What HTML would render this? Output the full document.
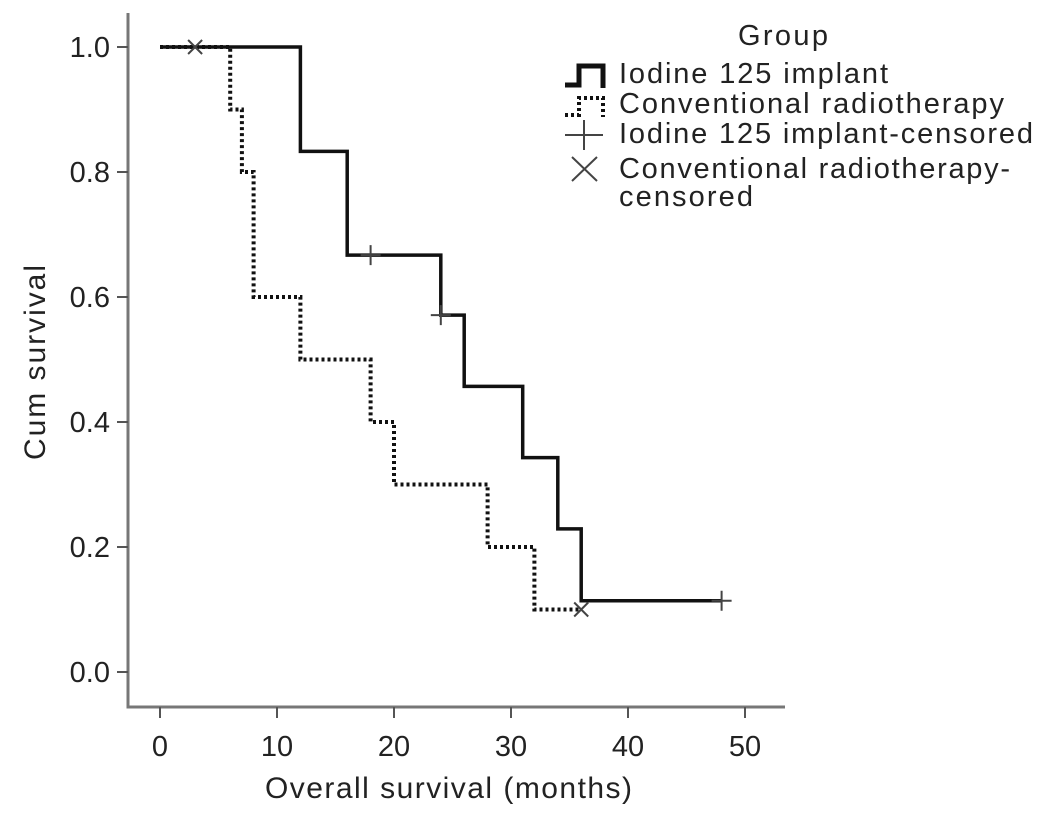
<!DOCTYPE html>
<html><head><meta charset="utf-8"><style>
body{margin:0;background:#fff;}
svg text{font-family:"Liberation Sans",Arial,sans-serif;fill:#222;}
</style></head><body>
<svg width="1047" height="818" viewBox="0 0 1047 818">
<g id="axes"></g>
<g id="series"></g>
<g id="legend">
<text x="783" y="45" font-size="29" text-anchor="middle" textLength="90">Group</text>
<path d="M565 85 H579 V66 H603 V88" fill="none" stroke="#111" stroke-width="5"/>
<text x="619" y="83" font-size="29" textLength="269">Iodine 125 implant</text>
<path d="M565 115 H579 V98 H603 V117" fill="none" stroke="#111" stroke-width="4" stroke-dasharray="3 3"/>
<text x="619" y="113" font-size="29" textLength="385">Conventional radiotherapy</text>
<path d="M565 135 H603 M584 120 V150" stroke="#444" stroke-width="2"/>
<text x="619" y="143" font-size="29" textLength="414">Iodine 125 implant-censored</text>
<path d="M572 157 L597 181 M597 157 L572 181" stroke="#444" stroke-width="2"/>
<text x="619" y="178" font-size="29" textLength="391">Conventional radiotherapy-</text>
<text x="619" y="206" font-size="29" textLength="134">censored</text>
</g>
</svg>
<script>
const xTicks=[0,10,20,30,40,50];
const yTicks=[0.0,0.2,0.4,0.6,0.8,1.0];
const iodineTimes=[0,12,16,24,26,31,34,36,48];
const iodineSurv=[1.0,0.833,0.667,0.571,0.457,0.343,0.229,0.114,0.114];
const convTimes=[0,6,7,8,12,18,20,28,32,36];
const convSurv=[1.0,0.9,0.8,0.6,0.5,0.4,0.3,0.2,0.1,0.1];
const iodineCensT=[18,24,48];
const iodineCensS=[0.667,0.571,0.114];
const convCensT=[3,36];
const convCensS=[1.0,0.1];
const NS='http://www.w3.org/2000/svg';
const sx=v=>160+v*11.7;
const sy=v=>672-v*625;
function mk(tag,attrs,parent){const e=document.createElementNS(NS,tag);for(const k in attrs)e.setAttribute(k,attrs[k]);parent.appendChild(e);return e;}
const ax=document.getElementById('axes');
let e=mk('path',{d:'M128 13 V707 H785',fill:'none',stroke:'#777','stroke-width':3},ax);


xTicks.forEach(t=>{
 let l=mk('line',{x1:sx(t),x2:sx(t),y1:707,y2:718,stroke:'#555','stroke-width':2},ax);
 
 
 let tx=mk('text',{x:sx(t),y:756,'font-size':29,'text-anchor':'middle'},ax);tx.textContent=t;
 
 
});
yTicks.forEach(t=>{
 let l=mk('line',{x1:117,x2:128,y1:sy(t),y2:sy(t),stroke:'#555','stroke-width':2},ax);
 
 
 let tx=mk('text',{x:110,y:sy(t)+10,'font-size':29,'text-anchor':'end'},ax);tx.textContent=t.toFixed(1);
 
 
});
let xt=mk('text',{x:265,y:798,'font-size':30,textLength:367},ax);xt.textContent='Overall survival (months)';


let yt=mk('text',{x:0,y:0,'font-size':30,textLength:195,transform:'translate(45 460) rotate(-90)'},ax);yt.textContent='Cum survival';


function step(T,S){let d='M'+sx(T[0])+' '+sy(S[0]);for(let i=1;i<T.length;i++){d+=' H'+sx(T[i])+' V'+sy(S[i]);}return d;}
const sg=document.getElementById('series');
let p2=mk('path',{d:step(convTimes,convSurv),fill:'none',stroke:'#111','stroke-width':4,'stroke-dasharray':'3 3'},sg);


let p1=mk('path',{d:step(iodineTimes,iodineSurv),fill:'none',stroke:'#111','stroke-width':3.5},sg);


iodineCensT.forEach((t,i)=>{const x=sx(t),y=sy(iodineCensS[i]);
 let m=mk('path',{d:`M${x-10} ${y} H${x+10} M${x} ${y-10} V${y+10}`,stroke:'#444','stroke-width':2},sg);
 
 
});
convCensT.forEach((t,i)=>{const x=sx(t),y=sy(convCensS[i]);
 let m=mk('path',{d:`M${x-7} ${y-7} L${x+7} ${y+7} M${x+7} ${y-7} L${x-7} ${y+7}`,stroke:'#444','stroke-width':2},sg);
 
 
});
</script>
</body></html>
